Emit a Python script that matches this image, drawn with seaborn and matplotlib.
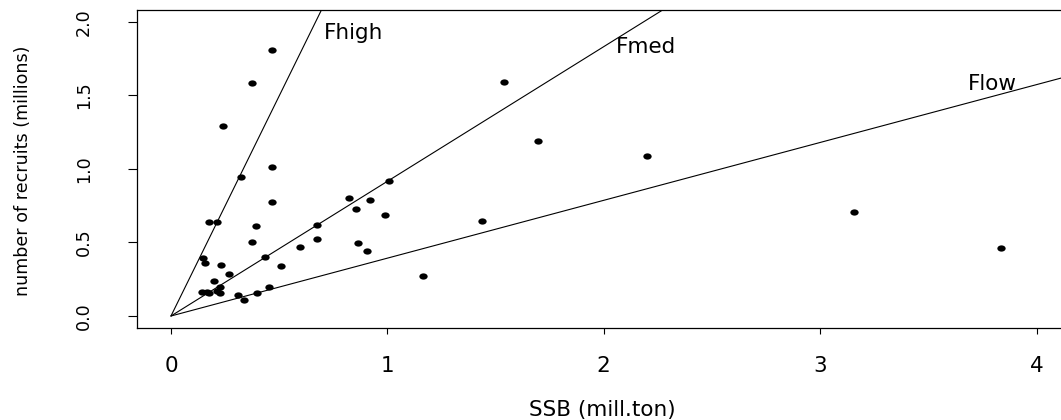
import numpy as np
import pandas as pd
import matplotlib
matplotlib.use("Agg")
import matplotlib.pyplot as plt
import seaborn as sns
from matplotlib.path import Path
from matplotlib.transforms import Affine2D

# ---- data ----
ssb = [0.466, 0.373, 0.242, 0.468, 0.324, 1.009, 0.824, 0.918, 0.468, 0.854,
       0.989, 1.439, 0.174, 0.214, 0.391, 0.674, 0.373, 0.677, 0.598, 0.866,
       0.905, 0.150, 0.159, 0.435, 0.230, 0.510, 0.268, 1.167, 0.200, 0.228,
       0.145, 0.168, 0.174, 0.211, 0.227, 0.455, 0.310, 0.399, 0.339,
       1.538, 1.694, 2.199, 3.158, 3.834]
recruits = [1.810, 1.580, 1.290, 1.012, 0.944, 0.915, 0.800, 0.789, 0.775, 0.725,
            0.689, 0.646, 0.639, 0.639, 0.610, 0.617, 0.502, 0.522, 0.470, 0.497,
            0.445, 0.395, 0.361, 0.402, 0.346, 0.341, 0.285, 0.273, 0.237, 0.199,
            0.163, 0.163, 0.154, 0.172, 0.158, 0.199, 0.144, 0.156, 0.111,
            1.588, 1.189, 1.087, 0.707, 0.463]

ref_names = ["Fhigh", "Fmed", "Flow"]
ref_slopes = [2.99, 0.915, 0.393]
label_x = [0.843, 2.195, 3.795]
label_y = [1.923, 1.830, 1.574]

x_ticks = [0, 1, 2, 3, 4]
x_ticklabels = ["0", "1", "2", "3", "4"]
y_ticks = [0.0, 0.5, 1.0, 1.5, 2.0]
y_ticklabels = ["0.0", "0.5", "1.0", "1.5", "2.0"]

df = pd.DataFrame({"ssb": ssb, "recruits": recruits})

sns.set_style("white")
plt.rcParams["font.family"] = ["DejaVu Sans"]
plt.rcParams["text.color"] = "black"
plt.rcParams["axes.labelcolor"] = "black"

W, H = 1061, 420
fig = plt.figure(figsize=(W / 100, H / 100), dpi=100)
left_px, right_px, top_px, bottom_px = 137, 1064, 10, 328
ax = fig.add_axes([left_px / W, (H - bottom_px) / H,
                   (right_px - left_px) / W, (bottom_px - top_px) / H])

# elliptical dot (reference is horizontally stretched)
ell = Path.unit_circle().transformed(Affine2D().scale(1.33, 1.0))

sns.scatterplot(data=df, x="ssb", y="recruits", ax=ax, marker=ell,
                s=36, color="black", edgecolor="black", linewidth=0, zorder=3)

xmin, xmax = -0.157, 4.127
ymin, ymax = -0.0815, 2.079

# reference lines: rays from the origin with the given slopes
for name, s, lx, ly in zip(ref_names, ref_slopes, label_x, label_y):
    ray = pd.DataFrame({"x": [0.0, xmax * 2], "y": [0.0, s * xmax * 2]})
    sns.lineplot(data=ray, x="x", y="y", ax=ax, color="black", lw=0.8,
                 zorder=2, estimator=None, sort=False)
    ax.text(lx, ly, name, ha="center", va="center", fontsize=15.5, color="black")

ax.set_xlim(xmin, xmax)
ax.set_ylim(ymin, ymax)

ax.set_xticks(x_ticks)
ax.set_xticklabels(x_ticklabels, fontsize=15.5)
ax.set_yticks(y_ticks)
ax.set_yticklabels(y_ticklabels, fontsize=12.6, rotation=90, va="center")

ax.tick_params(axis="x", direction="out", length=4.5, width=0.8, pad=16,
               colors="black", bottom=True)
ax.tick_params(axis="y", direction="out", length=6.5, width=0.8, pad=25,
               colors="black", left=True)

for side in ["left", "bottom", "top"]:
    ax.spines[side].set_color("black")
    ax.spines[side].set_linewidth(0.9)
ax.spines["right"].set_visible(False)

ax.set_xlabel("SSB (mill.ton)", fontsize=15.5, color="black")
ax.set_ylabel("number of recruits (millions)", fontsize=12.6, color="black")
ax.xaxis.label.set_va("center")
ax.yaxis.label.set_va("center")
ax.xaxis.set_label_coords(0.502, -0.258)
ax.yaxis.set_label_coords(-0.123, 0.494)

fig.savefig("out.png", dpi=100)
